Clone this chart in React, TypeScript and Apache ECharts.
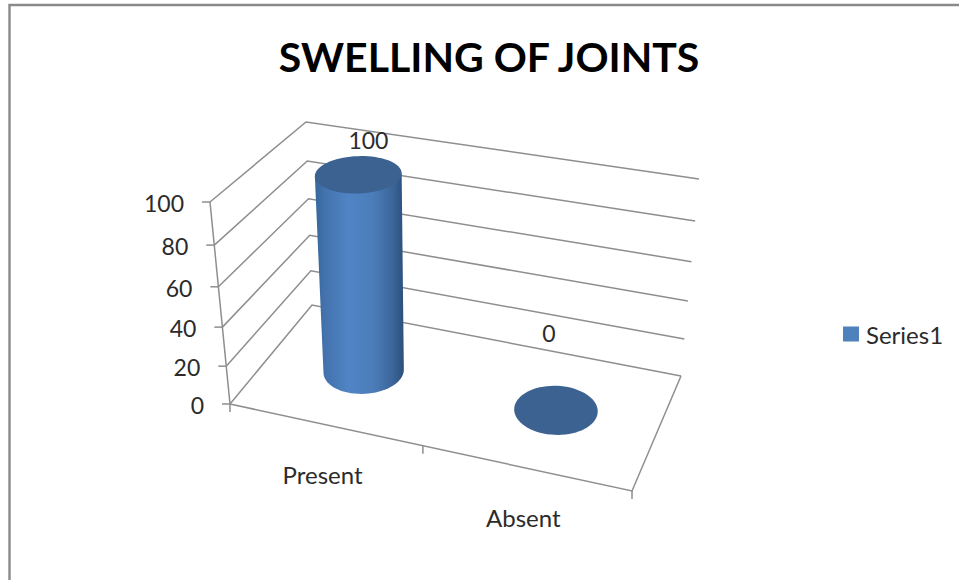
import React, { useEffect, useRef } from "react";
import * as echarts from "echarts";

// Chart content
const chartTitle = "SWELLING OF JOINTS";
const seriesName = "Series1";
const categories = ["Present", "Absent"];
const seriesValues = [100, 0];
const valueTicks = [0, 20, 40, 60, 80, 100];

// Screen corners of the 3D plot box
type Pt = [number, number];
const FLOOR: Pt[] = [[230, 404], [632, 491], [681, 376], [312, 305]];
const ROOF: Pt[] = [[210, 202], [664, 280], [699, 179], [306, 122]];
const FONT = "Lato";
const INK = "#2b2b2b";
const RULE = "#8e8e8e";
const RADIUS_U = 0.1;
const RADIUS_V = 0.21;
const LABEL_OFFSET: Pt[] = [[10, -34], [-7, -77]];

// Maps the unit square onto a screen quadrilateral with perspective
function quadMap(q: Pt[]) {
  const [[x0, y0], [x1, y1], [x2, y2], [x3, y3]] = q;
  const dx1 = x1 - x2, dx2 = x3 - x2, sx = x0 - x1 + x2 - x3;
  const dy1 = y1 - y2, dy2 = y3 - y2, sy = y0 - y1 + y2 - y3;
  const den = dx1 * dy2 - dx2 * dy1;
  const g = (sx * dy2 - dx2 * sy) / den;
  const h = (dx1 * sy - sx * dy1) / den;
  const a = x1 - x0 + g * x1, b = x3 - x0 + h * x3;
  const d = y1 - y0 + g * y1, e = y3 - y0 + h * y3;
  return (u: number, v: number): Pt => {
    const w = g * u + h * v + 1;
    return [(a * u + b * v + x0) / w, (d * u + e * v + y0) / w];
  };
}
const floorAt = quadMap(FLOOR);
const roofAt = quadMap(ROOF);

function project(u: number, v: number, w: number): Pt {
  const t = w / (1.085 - 0.085 * w);
  const f = floorAt(u, v), r = roofAt(u, v);
  return [f[0] + (r[0] - f[0]) * t, f[1] + (r[1] - f[1]) * t];
}

// Axis fractions of a data point inside the cartesian grid
function fractions(params: any, api: any, x: number, y: number) {
  const c = api.coord([x, y]);
  const s = params.coordSys;
  return { u: (c[0] - s.x) / s.width, w: (s.y + s.height - c[1]) / s.height };
}

const rule = (pts: Pt[]) => ({
  type: "polyline",
  shape: { points: pts },
  style: { stroke: RULE, lineWidth: 1.5, fill: "none" },
});
const label = (text: string, x: number, y: number, align: string, fontSize: number) => ({
  type: "text",
  style: { text, x, y, align, verticalAlign: "middle", fontFamily: FONT, fontSize, fill: INK },
});

// Wall gridlines with their tick marks and value labels
function renderGrid(params: any, api: any) {
  const tick = api.value(1);
  const { w } = fractions(params, api, 0, tick);
  const a = project(0, 0, w), b = project(0, 1, w), c = project(1, 1, w);
  return {
    type: "group",
    children: [
      rule([a, b, c]),
      rule([a, [a[0] - 8, a[1]]]),
      label(String(tick), a[0] - 26, a[1] + 1, "right", 23),
    ],
  };
}

// Vertical axis, floor front and right edges, and category ticks
function renderFrame() {
  const edges: any[] = [
    rule([project(0, 0, 0), project(0, 0, 1)]),
    rule([project(0, 0, 0), project(1, 0, 0), project(1, 1, 0)]),
  ];
  for (let i = 0; i <= categories.length; i++) {
    const p = project(i / categories.length, 0, 0);
    edges.push(rule([p, [p[0], p[1] + 8]]));
  }
  return { type: "group", children: edges };
}

function renderCategory(params: any, api: any) {
  const { u } = fractions(params, api, api.value(0), 0);
  const p = project(u, 0, 0);
  return label(categories[api.value(0)], p[0] - 2, p[1] + 50, "center", 24);
}

// One projected cylinder drawn from its value
function renderCylinder(params: any, api: any) {
  const idx = api.value(0);
  const value = api.value(1);
  const { u, w } = fractions(params, api, idx, value);
  const ring = (h: number): Pt[] => {
    const pts: Pt[] = [];
    for (let i = 0; i < 72; i++) {
      const a = (i / 72) * Math.PI * 2;
      pts.push(project(u + RADIUS_U * Math.cos(a), 0.5 + RADIUS_V * Math.sin(a), h));
    }
    return pts;
  };
  const base = ring(0), cap = ring(w);
  const extreme = (pts: Pt[], sign: number) =>
    pts.reduce((best, p, i) => (sign * p[0] > sign * pts[best][0] ? i : best), 0);

  const children: any[] = [];
  if (w > 0) {
    const outline: Pt[] = [cap[extreme(cap, -1)]];
    const from = extreme(base, -1), to = extreme(base, 1);
    for (let i = from; ; i = (i + 1) % base.length) {
      outline.push(base[i]);
      if (i === to) break;
    }
    outline.push(cap[extreme(cap, 1)]);
    children.push({
      type: "polygon",
      shape: { points: outline },
      style: {
        fill: {
          type: "linear", x: 0, y: 0, x2: 1, y2: 0,
          colorStops: [
            { offset: 0, color: "#37659c" },
            { offset: 0.12, color: "#4473ae" },
            { offset: 0.38, color: "#5084c4" },
            { offset: 0.65, color: "#4c7dba" },
            { offset: 0.88, color: "#3b6598" },
            { offset: 1, color: "#2c4f7c" },
          ],
        },
      },
    });
  }
  children.push({ type: "polygon", shape: { points: cap }, style: { fill: "#3c6291" } });

  const capCentre = project(u, 0.5, w);
  const off = LABEL_OFFSET[idx];
  children.push(label(String(value), capCentre[0] + off[0], capCentre[1] + off[1], "center", 23));
  return { type: "group", children };
}

const option: any = {
  animation: false,
  backgroundColor: "#ffffff",
  title: {
    text: chartTitle,
    left: 484,
    top: 31,
    textAlign: "center",
    textStyle: { fontFamily: FONT, fontSize: 41, fontWeight: "bold", color: "#000000" },
  },
  legend: {
    data: [{ name: seriesName, icon: "rect" }],
    left: 838,
    top: 317,
    itemWidth: 16,
    itemHeight: 15,
    itemGap: 0,
    selectedMode: false,
    textStyle: { fontFamily: FONT, fontSize: 24, color: INK, padding: [0, 0, 0, 2] },
  },
  grid: { left: 0, top: 0, width: 959, height: 580 },
  xAxis: { type: "category", data: categories, show: false },
  yAxis: { type: "value", min: 0, max: 100, interval: 20, show: false },
  graphic: [
    {
      type: "polyline",
      silent: true,
      shape: { points: [[9.5, 580], [9.5, 5], [959, 5]] },
      style: { stroke: "#8a8a8a", lineWidth: 2.4, fill: "none" },
    },
  ],
  series: [
    {
      type: "custom",
      name: "walls",
      renderItem: renderGrid,
      data: valueTicks.map((t) => [0, t]),
      z: 1,
      silent: true,
    },
    { type: "custom", name: "frame", renderItem: renderFrame, data: [[0, 0]], z: 1, silent: true },
    {
      type: "custom",
      name: "categories",
      renderItem: renderCategory,
      data: categories.map((_, i) => [i, 0]),
      z: 1,
      silent: true,
    },
    {
      type: "custom",
      name: seriesName,
      renderItem: renderCylinder,
      data: seriesValues.map((v, i) => [i, v]),
      itemStyle: { color: "#4f81bd" },
      z: 2,
      silent: true,
    },
  ],
};

export default function App() {
  const ref = useRef<HTMLDivElement>(null);
  useEffect(() => {
    const chart = echarts.init(ref.current!, undefined, { renderer: "svg" });
    chart.setOption(option);
    return () => chart.dispose();
  }, []);
  return <div ref={ref} style={{ position: "fixed", left: 0, top: 0, width: 959, height: 580 }} />;
}
